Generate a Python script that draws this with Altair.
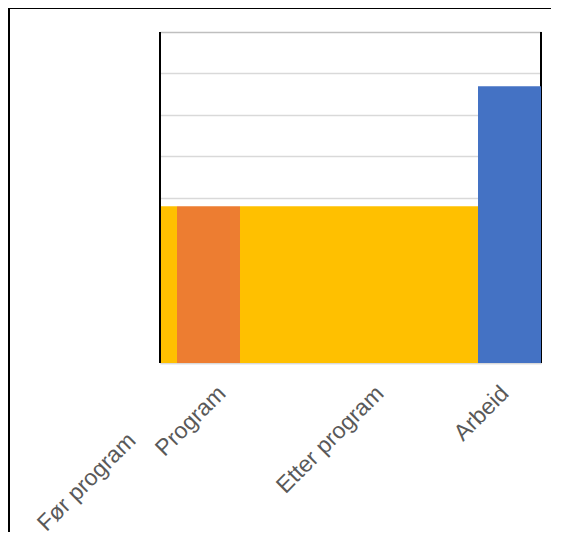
import altair as alt
import pandas as pd

# ---- data ----
categories = ["Før program", "Program", "Etter program", "Arbeid"]
period_start = [0, 17, 80, 318]
period_end = [17, 80, 318, 381]
values = [3.79, 3.79, 3.79, 6.69]
bar_colors = ["#FFC000", "#ED7D31", "#FFC000", "#4472C4"]
label_pos = [-28, 62, 220, 345]
title_text = "Relativ inntekt per periode"

W, H = 381, 331

bars_df = pd.DataFrame({
    "kategori": categories,
    "start": period_start,
    "slutt": period_end,
    "verdi": values,
    "farge": bar_colors,
})
labels_df = pd.DataFrame({"kategori": categories, "pos": label_pos})

xscale = alt.Scale(domain=[0, 381], nice=False, zero=False)
yscale = alt.Scale(domain=[0, 8], nice=False)

base = alt.Chart(bars_df)

grid = base.mark_rect(opacity=0).encode(
    x=alt.X("start:Q", scale=xscale, axis=alt.Axis(
        labels=False, ticks=False, grid=False, title=None,
        domainColor="#d9d9d9", domainWidth=1.5)),
    x2="slutt:Q",
    y=alt.Y("verdi:Q", scale=yscale, axis=alt.Axis(
        labels=False, ticks=False, title=None, domain=False,
        values=[0, 1, 2, 3, 4, 5, 6, 7, 8],
        gridColor={"condition": {"test": "datum.value == 8", "value": "#bfbfbf"}, "value": "#d9d9d9"},
        gridWidth=1.5)),
    y2=alt.datum(0),
)

right_border = base.mark_rule(color="black", strokeWidth=2).encode(
    x=alt.value(W), y=alt.value(0), y2=alt.value(H))

bars = base.mark_rect(strokeWidth=0).encode(
    x=alt.X("start:Q", scale=xscale),
    x2="slutt:Q",
    y=alt.Y("verdi:Q", scale=yscale),
    y2=alt.datum(0),
    color=alt.Color("farge:N", scale=None, legend=None),
)

left_border = base.mark_rule(color="black", strokeWidth=2).encode(
    x=alt.value(0), y=alt.value(0), y2=alt.value(H))

frame_left = base.mark_rule(color="black", strokeWidth=2).encode(
    x=alt.value(-151), y=alt.value(-24), y2=alt.value(H + 200))
frame_top = base.mark_rule(color="black", strokeWidth=2).encode(
    x=alt.value(-152), x2=alt.value(W + 40), y=alt.value(-24))

label_style = dict(angle=315, align="right", baseline="middle",
                   font="Liberation Sans", fontSize=23, color="#595959")

lab_low = alt.Chart(labels_df).transform_filter(
    alt.datum.kategori == "Før program"
).mark_text(**label_style).encode(
    x=alt.X("pos:Q", scale=xscale), y=alt.value(H + 74), text="kategori:N")

lab_high = alt.Chart(labels_df).transform_filter(
    alt.datum.kategori != "Før program"
).mark_text(**label_style).encode(
    x=alt.X("pos:Q", scale=xscale), y=alt.value(H + 27), text="kategori:N")

chart = alt.layer(
    grid, right_border, bars, left_border, frame_left, frame_top, lab_low, lab_high
).properties(
    width=W,
    height=H,
    autosize="none",
    padding={"left": 152, "top": 24, "right": 10, "bottom": 169},
    title=alt.TitleParams(title_text, anchor="start", frame="group", dx=-125,
                          offset=23, font="Liberation Sans", fontSize=24,
                          fontWeight="bold", color="black"),
).configure_view(stroke=None)

chart.save("out.html", embed_options={"renderer": "svg", "actions": False})
